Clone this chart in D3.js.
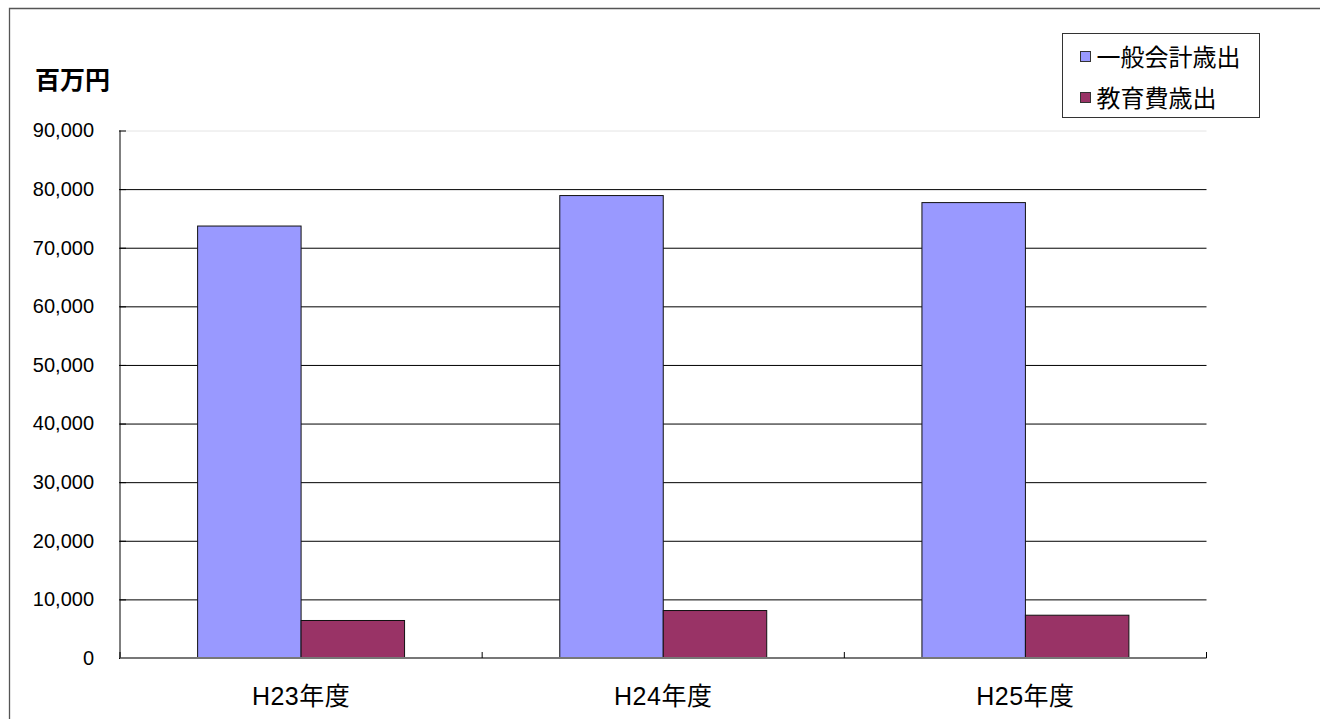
<!DOCTYPE html>
<html lang="ja">

<head>
  <meta charset="UTF-8">
  <title>一般会計歳出と教育費歳出</title>
  <script src="https://cdn.jsdelivr.net/npm/d3@7.6.1/dist/d3.min.js"></script>
  <style>
    html, body { margin: 0; padding: 0; background: #fff; overflow: hidden; }
    svg { display: block; font-family: "Liberation Sans", "Noto Sans CJK JP", sans-serif; }
  </style>
</head>

<body>
  <div id="box"></div>
  <script>
    const width = 1320
    const height = 719
    const plot = { left: 120, right: 1206.5, top: 130.5, bottom: 658 }

    // データ
    const years = ['H23年度', 'H24年度', 'H25年度']
    const seriesNames = ['一般会計歳出', '教育費歳出']
    const generalSpending = [73700, 78900, 77700]
    const educationSpending = [6400, 8100, 7300]
    const yTicks = [0, 10000, 20000, 30000, 40000, 50000, 60000, 70000, 80000, 90000]
    const colors = ['#9999ff', '#993366']

    const svg = d3.select('#box').append('svg')
      .attr('width', width)
      .attr('height', height)

    // 外枠（上と左だけ見える）
    svg.append('path')
      .attr('d', `M9.5,${height}V8.5H${width}`)
      .attr('fill', 'none').attr('stroke', '#555').attr('stroke-width', 1.3)

    // 比例尺
    const x0 = d3.scaleBand().domain(years).range([plot.left, plot.right])
    const x1 = d3.scaleBand().domain(seriesNames).range([0, x0.bandwidth()]).paddingOuter(0.75)
    const y = d3.scaleLinear().domain([0, 90000]).range([plot.bottom, plot.top])

    /* Y軸 + 目盛線 */
    const yAxis = d3.axisLeft(y)
      .tickValues(yTicks)
      .tickSize(-(plot.right - plot.left))
      .tickPadding(26)
      .tickFormat(d3.format(','))
    const gy = svg.append('g')
      .attr('transform', `translate(${plot.left},0)`)
      .call(yAxis)
    gy.select('.domain').remove()
    gy.selectAll('.tick line')
      .attr('stroke', d => d === 90000 ? '#e4e4e4' : (d === 0 ? 'none' : '#000'))
      .attr('stroke-width', 1)
    gy.selectAll('.tick text')
      .attr('font-size', 20)
      .attr('font-family', '"Liberation Sans", Arial, sans-serif')
      .attr('fill', '#000')
    // 内向きの小目盛
    gy.selectAll('.tick').append('line')
      .attr('x1', -1).attr('x2', 6)
      .attr('stroke', '#000')

    // 棒
    const rows = years.map((yr, i) => ({ year: yr, values: [generalSpending[i], educationSpending[i]] }))
    svg.append('g').selectAll('g')
      .data(rows)
      .join('g')
      .attr('transform', d => `translate(${x0(d.year)},0)`)
      .selectAll('rect')
      .data(d => d.values.map((v, j) => ({ name: seriesNames[j], value: v, color: colors[j] })))
      .join('rect')
      .attr('x', d => x1(d.name))
      .attr('y', d => y(d.value))
      .attr('width', x1.bandwidth())
      .attr('height', d => y(0) - y(d.value))
      .attr('fill', d => d.color)
      .attr('stroke', '#111')
      .attr('stroke-width', 1)

    // Y軸の線
    svg.append('line')
      .attr('x1', plot.left).attr('x2', plot.left)
      .attr('y1', plot.top).attr('y2', plot.bottom)
      .attr('stroke', '#000')

    /* X軸 */
    const xAxis = d3.axisBottom(x0).tickSize(0).tickPadding(29)
    const gx = svg.append('g')
      .attr('transform', `translate(0,${plot.bottom})`)
      .call(xAxis)
    gx.select('.domain').remove()
    gx.selectAll('.tick text')
      .attr('font-size', 25)
      .attr('font-family', '"Liberation Sans", "Noto Sans CJK JP", sans-serif')
      .attr('letter-spacing', 0.5)
      .attr('fill', '#000')
    gx.append('line')
      .attr('x1', plot.left).attr('x2', plot.right)
      .attr('stroke', '#777').attr('stroke-width', 2)
    // 区切りの目盛（上向き）
    const bounds = years.map(d => x0(d)).concat([plot.right])
    gx.selectAll('.bound')
      .data(bounds)
      .join('line')
      .attr('class', 'bound')
      .attr('x1', d => d).attr('x2', d => d)
      .attr('y1', -6).attr('y2', 0)
      .attr('stroke', '#000')

    // 単位
    svg.append('text')
      .attr('x', 35).attr('y', 89)
      .attr('font-size', 25).attr('font-weight', 'bold')
      .attr('font-family', '"Noto Sans CJK JP", sans-serif')
      .text('百万円')

    // 凡例
    const legend = svg.append('g').attr('transform', 'translate(1062.5,33.5)')
    legend.append('rect')
      .attr('width', 197).attr('height', 84)
      .attr('fill', '#fff').attr('stroke', '#333')
    const item = legend.selectAll('.item')
      .data(seriesNames)
      .join('g')
      .attr('class', 'item')
      .attr('transform', (d, i) => `translate(18,${24 + i * 41})`)
    item.append('rect')
      .attr('x', 0).attr('y', -6)
      .attr('width', 10).attr('height', 10)
      .attr('fill', (d, i) => colors[i])
      .attr('stroke', '#333')
    item.append('text')
      .attr('x', 16).attr('dy', '0.36em')
      .attr('font-size', 24)
      .attr('font-family', '"Noto Sans CJK JP", sans-serif')
      .text(d => d)
  </script>
</body>

</html>
